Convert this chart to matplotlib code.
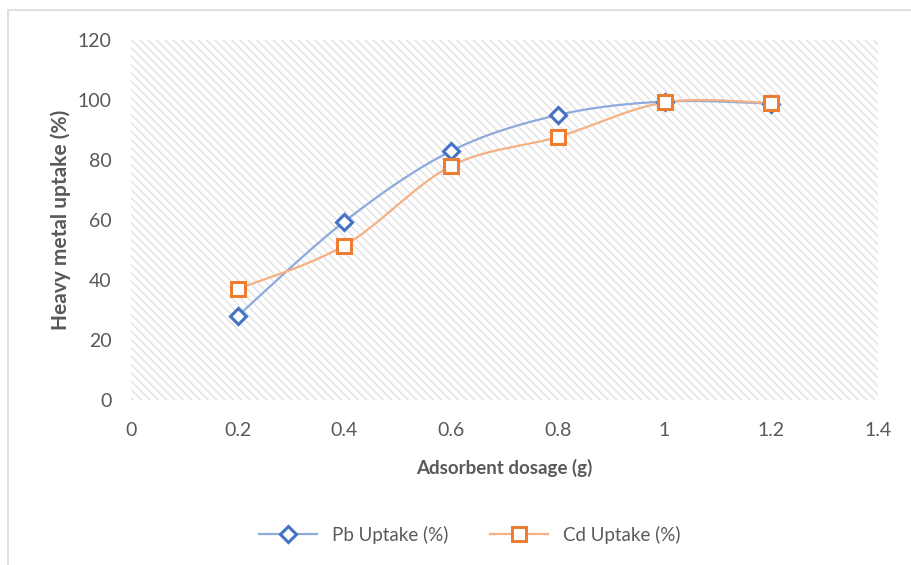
import numpy as np
import matplotlib
matplotlib.use("Agg")
import matplotlib.pyplot as plt
from matplotlib.patches import Rectangle
from matplotlib.lines import Line2D

dosage = [0.2, 0.4, 0.6, 0.8, 1.0, 1.2]
pb_uptake = [28.0, 59.5, 83.0, 95.0, 99.5, 98.8]
cd_uptake = [37.0, 51.5, 78.0, 87.7, 99.2, 99.0]
series_names = ["Pb Uptake (%)", "Cd Uptake (%)"]
x_ticks = [0, 0.2, 0.4, 0.6, 0.8, 1.0, 1.2, 1.4]
x_tick_labels = ["0", "0.2", "0.4", "0.6", "0.8", "1", "1.2", "1.4"]
y_ticks = [0, 20, 40, 60, 80, 100, 120]

plt.rcParams['font.family'] = ['Lato', 'DejaVu Sans']
plt.rcParams['hatch.linewidth'] = 1.0

W, H = 911, 565
fig = plt.figure(figsize=(W / 100, H / 100), dpi=100)
fig.patch.set_facecolor('white')
# outer chart border
fig.patches.append(Rectangle((8 / W, -0.05), 1.2, 1 - 10 / H + 0.05, transform=fig.transFigure,
                             fill=False, edgecolor='#d9d9d9', linewidth=1.2))

ax = fig.add_axes([131 / W, 1 - 400 / H, (878 - 131) / W, 360 / H])
ax.set_xlim(0, 1.4)
ax.set_ylim(0, 120)
ax.patch.set_visible(False)
ax.add_patch(Rectangle((0, 0), 1, 1, transform=ax.transAxes, facecolor='white',
                       edgecolor='#e2e2e2', linewidth=0, hatch='\\\\\\\\', zorder=0))
for s in ax.spines.values():
    s.set_visible(False)
ax.tick_params(length=0, colors='#595959', labelsize=14)
ax.tick_params(axis='x', pad=16)
ax.tick_params(axis='y', pad=14)
ax.set_xticks(x_ticks)
ax.set_xticklabels(x_tick_labels)
ax.set_yticks(y_ticks)


def smooth(xs, ys, n=40):
    P = np.column_stack([xs, ys]).astype(float)
    Pe = np.vstack([P[0], P, P[-1]])
    out = []
    for i in range(len(P) - 1):
        p0, p1, p2, p3 = Pe[i], Pe[i + 1], Pe[i + 2], Pe[i + 3]
        c1 = p1 + (p2 - p0) / 6
        c2 = p2 - (p3 - p1) / 6
        t = np.linspace(0, 1, n)[:, None]
        seg = ((1 - t) ** 3) * p1 + 3 * ((1 - t) ** 2) * t * c1 + 3 * (1 - t) * t ** 2 * c2 + t ** 3 * p2
        out.append(seg if i == 0 else seg[1:])
    return np.vstack(out)


pb_line_c, pb_mk_c = '#8EA9DB', '#4472C4'
cd_line_c, cd_mk_c = '#F4B183', '#ED7D31'

s = smooth(dosage, pb_uptake)
ax.plot(s[:, 0], s[:, 1], color=pb_line_c, lw=1.6, zorder=2)
s = smooth(dosage, cd_uptake)
ax.plot(s[:, 0], s[:, 1], color=cd_line_c, lw=1.6, zorder=2)
ax.plot(dosage, pb_uptake, linestyle='none', marker='D', markersize=8.5, markerfacecolor='white',
        markeredgecolor=pb_mk_c, markeredgewidth=2.2, zorder=3)
ax.plot(dosage, cd_uptake, linestyle='none', marker='s', markersize=10.5, markerfacecolor='white',
        markeredgecolor=cd_mk_c, markeredgewidth=2.2, zorder=4)

ax.set_xlabel('Adsorbent dosage (g)', fontsize=13.5, fontweight='bold', color='#595959', labelpad=14)
ax.set_ylabel('Heavy metal uptake (%)', fontsize=15, fontweight='bold', color='#595959', labelpad=5)

handles = [
    Line2D([], [], color=pb_line_c, lw=1.6, marker='D', markersize=8, markerfacecolor='white',
           markeredgecolor=pb_mk_c, markeredgewidth=2.2),
    Line2D([], [], color=cd_line_c, lw=1.6, marker='s', markersize=10, markerfacecolor='white',
           markeredgecolor=cd_mk_c, markeredgewidth=2.2),
]
leg = fig.legend(handles, series_names, loc='center', bbox_to_anchor=(470 / W, 1 - 535 / H), ncol=2,
                 frameon=False, fontsize=13.5, handlelength=3.1, columnspacing=2.2, handletextpad=0.8)
for t in leg.get_texts():
    t.set_color('#595959')

fig.savefig('out.png', dpi=100, facecolor='white')
